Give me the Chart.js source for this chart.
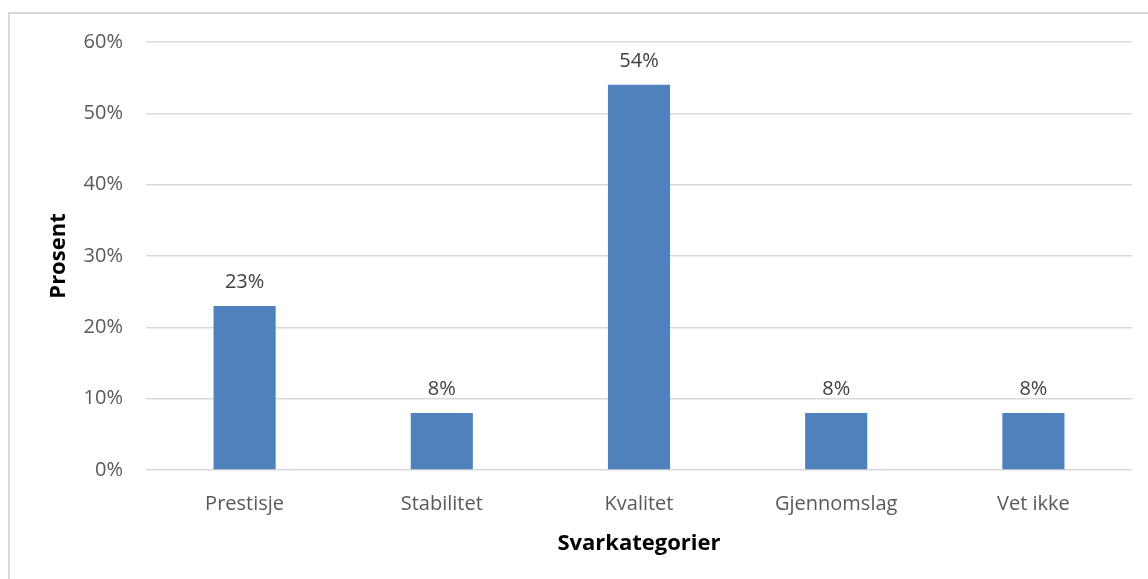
<!DOCTYPE html>
<html>
<head>
<meta charset="utf-8">
<script src="https://cdn.jsdelivr.net/npm/chart.js@4/dist/chart.umd.min.js"></script>
<style>
  html, body { margin: 0; padding: 0; background: #fff; }
  #wrap { position: relative; width: 1148px; height: 579px; }
  #frame { position: absolute; left: 8px; top: 12px; right: 0; bottom: -5px; border-left: 2px solid #d9d9d9; border-top: 2px solid #d9d9d9; }
  canvas { position: absolute; left: 0; top: 0; }
</style>
</head>
<body>
<div id="wrap">
  <div id="frame"></div>
  <canvas id="c" width="1148" height="579"></canvas>
</div>
<script>
const categories = ['Prestisje', 'Stabilitet', 'Kvalitet', 'Gjennomslag', 'Vet ikke'];
const values = [23, 8, 54, 8, 8];
const yTicks = [0, 10, 20, 30, 40, 50, 60];

const FONT = "'Open Sans', sans-serif";

const labelPlugin = {
  id: 'barLabels',
  afterDatasetsDraw(chart) {
    const ctx = chart.ctx;
    const meta = chart.getDatasetMeta(0);
    ctx.save();
    ctx.font = "20px " + FONT;
    ctx.fillStyle = '#404040';
    ctx.textAlign = 'center';
    ctx.textBaseline = 'bottom';
    meta.data.forEach((bar, i) => {
      ctx.fillText(values[i] + '%', bar.x, bar.y - 14);
    });
    ctx.restore();
  }
};

new Chart(document.getElementById('c'), {
  type: 'bar',
  data: {
    labels: categories,
    datasets: [{
      data: values,
      backgroundColor: '#4F81BD',
      borderWidth: 0,
      barPercentage: 0.315,
      categoryPercentage: 1.0
    }]
  },
  options: {
    responsive: false,
    animation: false,
    devicePixelRatio: 1,
    layout: { padding: { top: 42, right: 16, left: 0, bottom: 0 } },
    plugins: { legend: { display: false }, tooltip: { enabled: false } },
    scales: {
      x: {
        grid: { display: false },
        border: { display: false },
        ticks: { color: '#595959', font: { family: FONT, size: 20 }, padding: 14 },
        title: { display: true, text: 'Svarkategorier', color: '#000', font: { family: FONT, size: 22, weight: 'bold' }, padding: { top: 0, bottom: 22 } },
        afterFit(scale) { scale.height = 109; }
      },
      y: {
        min: 0, max: 60,
        afterBuildTicks(scale) { scale.ticks = yTicks.map(v => ({ value: v })); },
        grid: { color: '#d9d9d9', lineWidth: 1.5, drawTicks: false },
        border: { display: false },
        ticks: { color: '#595959', font: { family: FONT, size: 20 }, padding: 23, callback: v => v + '%' },
        title: { display: true, text: 'Prosent', color: '#000', font: { family: FONT, size: 22, weight: 'bold' }, padding: { top: 46, bottom: 0 } },
        afterFit(scale) { scale.width = 146; }
      }
    }
  },
  plugins: [labelPlugin]
});
</script>
</body>
</html>
